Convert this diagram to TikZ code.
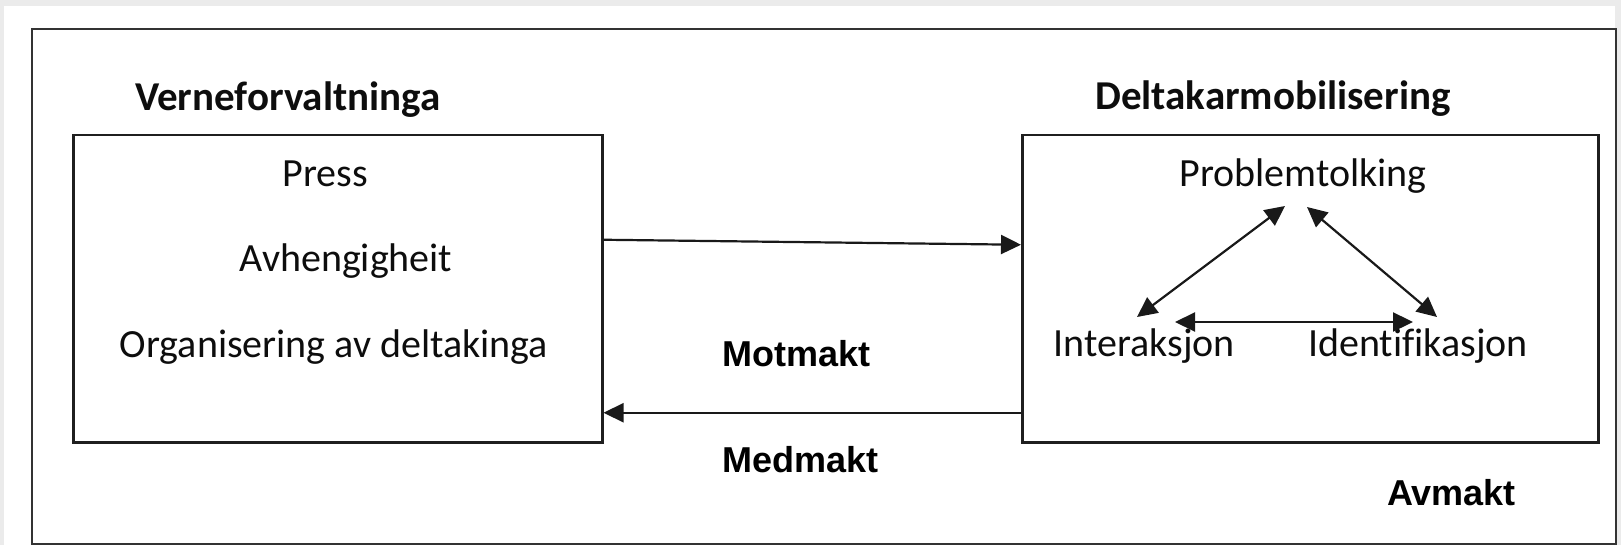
\documentclass[tikz,border=0pt]{standalone}
\usepackage{fontspec}
\setmainfont{Carlito}[Ligatures=NoCommon]
\newfontfamily\arialfont{Liberation Sans}
\usetikzlibrary{arrows.meta}
\begin{document}
\begin{tikzpicture}[x=1pt,y=-1pt,
  boxline/.style={draw=black!88, line width=2.5pt},
  framebox/.style={draw=black!80, line width=2.2pt},
  body/.style={inner sep=0pt, font=\fontsize{40}{48}\selectfont, text=black!95},
  title/.style={inner sep=0pt, font=\fontsize{41}{49}\selectfont\bfseries, text=black!95},
  powr/.style={inner sep=0pt, font=\arialfont\fontsize{36}{43}\selectfont\bfseries, text=black},
  arr/.style={draw=black!90, line width=2.2pt, -{Triangle[length=20pt,width=19pt]}},
  darr/.style={draw=black!90, line width=2.2pt, {Triangle[length=20pt,width=19pt]}-{Triangle[length=20pt,width=19pt]}}
]
\useasboundingbox (0,0) rectangle (1621,545);
% background
\fill[black!8] (0,0) rectangle (1621,545);
\fill[white] (4,6) rectangle (1615,545);
% outer frame
\node[framebox, minimum width=1584pt, minimum height=515pt, inner sep=0pt, anchor=north west] (frame) at (31,28) {};
% boxes
\node[boxline, minimum width=529pt, minimum height=307pt, inner sep=0pt, anchor=north west] (lbox) at (72,134) {};
\node[boxline, minimum width=576pt, minimum height=307pt, inner sep=0pt, anchor=north west] (rbox) at (1021,134) {};
% titles
\node[title, anchor=base west] (tl) at (135,111) {Verneforvaltninga};
\node[title, anchor=base west] (tr) at (1095,110) {Deltakarmobilisering};
% left box contents
\node[body, anchor=base] (press) at (325,187) {Press};
\node[body, anchor=base] (avh) at (346,271) {Avhengigheit};
\node[body, anchor=base] (org) at (334,357) {Organisering av deltakinga};
% right box contents
\node[body, anchor=base] (prob) at (1303,187) {Problemtolking};
\node[body, anchor=base east] (inter) at (1235,356) {Interaksjon};
\node[body, anchor=base west] (ident) at (1308,356) {Identifikasjon};
% power labels
\node[powr, anchor=base west] (mot) at (722,366) {Motmakt};
\node[powr, anchor=base west] (med) at (722,472) {Medmakt};
\node[powr, anchor=base west] (avm) at (1387,505) {Avmakt};
% arrows between boxes
\draw[arr] ([yshift=49pt]lbox.east) -- ([yshift=44pt]rbox.west);
\draw[arr] ([yshift=-124pt]rbox.west) -- ([yshift=-124pt]lbox.east);
% triangle arrows
\coordinate (pA) at (1285,206);
\coordinate (pB) at (1307,207);
\coordinate (iA) at (1137,317);
\coordinate (iB) at (1175,322);
\coordinate (dA) at (1437,317);
\coordinate (dB) at (1413,322);
\draw[darr] (pA) -- (iA);
\draw[darr] (pB) -- (dA);
\draw[darr] (iB) -- (dB);
\end{tikzpicture}
\end{document}
